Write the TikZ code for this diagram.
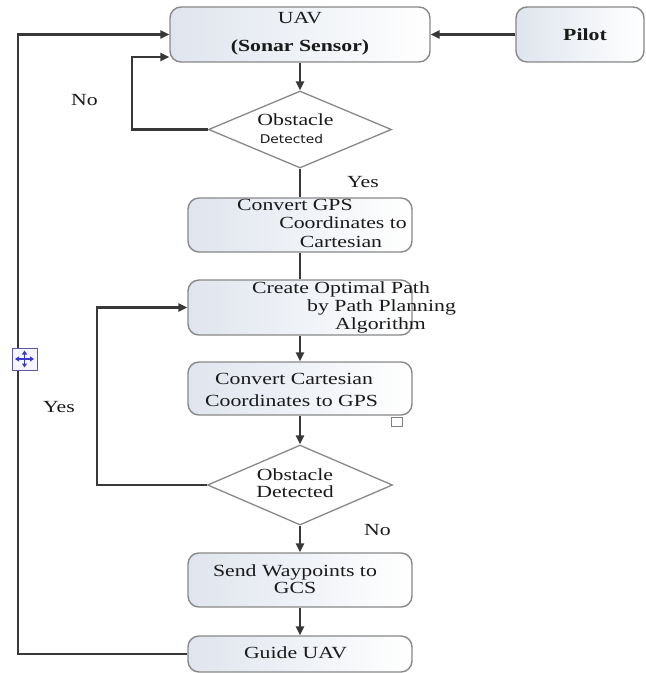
\documentclass[tikz,border=0pt]{standalone}
\usepackage{fontspec}
\setmainfont{Liberation Serif}[FakeStretch=1.28]
\newfontfamily\detfont{DejaVu Sans}[FakeStretch=1.15]
\usetikzlibrary{shapes.geometric,arrows.meta}
\definecolor{linecol}{HTML}{383838}
\definecolor{bordcol}{HTML}{888888}
\definecolor{fillcol}{HTML}{DFE5EE}
\definecolor{txtcol}{HTML}{1A1A1A}
\tikzset{
  procbox/.style={draw=bordcol, line width=1.4pt, rounded corners=11pt, left color=fillcol, right color=white, inner sep=0pt},
  decision/.style={diamond, draw=bordcol, line width=1.3pt, fill=white, inner sep=0pt},
  lbl/.style={inner sep=0pt, anchor=base, text=txtcol, font=\fontsize{17}{18}\selectfont},
  flow/.style={draw=linecol, line width=2.2pt, -{Triangle[length=9pt,width=8pt]}},
  conn/.style={draw=linecol, line width=2.2pt},
}
\begin{document}
\begin{tikzpicture}[x=1pt,y=-1pt]
\useasboundingbox (0,0) rectangle (646,673);
% boxes
\node[procbox, minimum width=260pt, minimum height=55pt] (uav) at (300,34.5) {};
\node[procbox, minimum width=128pt, minimum height=55pt] (pilot) at (580,34.5) {};
\node[decision, minimum width=183pt, minimum height=77pt] (d1) at (300,129.5) {};
\node[procbox, minimum width=224pt, minimum height=54pt] (gps) at (300,225) {};
\node[procbox, minimum width=224pt, minimum height=55pt] (path) at (300,307.5) {};
\node[procbox, minimum width=224pt, minimum height=53pt] (cart) at (300,388.5) {};
\node[decision, minimum width=185pt, minimum height=80pt] (d2) at (300,485) {};
\node[procbox, minimum width=224pt, minimum height=54pt] (send) at (300,580) {};
\node[procbox, minimum width=224pt, minimum height=36pt] (guide) at (300,654) {};
% texts
\node[lbl] (tuav) at (300,23) {UAV};
\node[lbl, font=\fontsize{17}{18}\selectfont\bfseries] (tsonar) at (300,51) {(Sonar Sensor)};
\node[lbl, font=\fontsize{17}{18}\selectfont\bfseries] (tpilot) at (585,40) {Pilot};
\node[lbl] (tobs1) at (295.5,125) {Obstacle};
\node[lbl, font=\fontsize{12}{14}\selectfont\detfont] (tdet1) at (291.5,143) {Detected};
\node[lbl] (tno1) at (84.5,105) {No};
\node[lbl] (tyes1) at (363,187) {Yes};
\node[lbl, anchor=base west] (tgps1) at (237,210) {Convert GPS};
\node[lbl, anchor=base east] (tgps2) at (407,228) {Coordinates to};
\node[lbl] (tgps3) at (341,247) {Cartesian};
\node[lbl, anchor=base west] (tpath1) at (252,293) {Create Optimal Path};
\node[lbl, anchor=base west] (tpath2) at (307,311) {by Path Planning};
\node[lbl, anchor=base west] (tpath3) at (335,329) {Algorithm};
\node[lbl, anchor=base west] (tcart1) at (215,384) {Convert Cartesian};
\node[lbl, anchor=base west] (tcart2) at (205,406) {Coordinates to GPS};
\node[lbl] (tobs2) at (295,480) {Obstacle};
\node[lbl] (tdet2) at (295,497) {Detected};
\node[lbl] (tno2) at (377.5,535) {No};
\node[lbl] (tyes2) at (59,412) {Yes};
\node[lbl] (tsend1) at (295,576) {Send Waypoints to};
\node[lbl] (tsend2) at (295,593) {GCS};
\node[lbl] (tguide) at (295.5,658) {Guide UAV};
% connectors
\coordinate (outer) at (18,34.5);
\coordinate (noloop) at (132,57);
\coordinate (yesloop) at (97,307.5);
\draw[flow] (guide.west) -| (outer) -- (uav.west);
\draw[flow] (d1.west) -| (noloop) -- (noloop -| uav.west);
\draw[flow] (d2.west) -| (yesloop) -- (path.west);
\draw[flow] (pilot.west) -- (uav.east);
\draw[flow] (uav.south) -- (d1.north);
\draw[conn] (d1.south) -- (gps.north);
\draw[conn] (gps.south) -- (path.north);
\draw[flow] (path.south) -- (cart.north);
\draw[flow] (cart.south) -- (d2.north);
\draw[flow] (d2.south) -- (send.north);
\draw[flow] (send.south) -- (guide.north);
% editor artefacts
\draw[draw=blue!30!gray, fill=blue!4, line width=0.8pt] (12,348) rectangle (37,370);
\draw[blue!55!gray, line width=1.2pt, {Triangle[length=4pt,width=5pt]}-{Triangle[length=4pt,width=5pt]}] (15,359) -- (34,359);
\draw[blue!55!gray, line width=1.2pt, {Triangle[length=4pt,width=5pt]}-{Triangle[length=4pt,width=5pt]}] (24.5,350.5) -- (24.5,367.5);
\draw[gray, fill=white, line width=0.8pt] (391,417) rectangle (402,426);
\end{tikzpicture}
\end{document}
